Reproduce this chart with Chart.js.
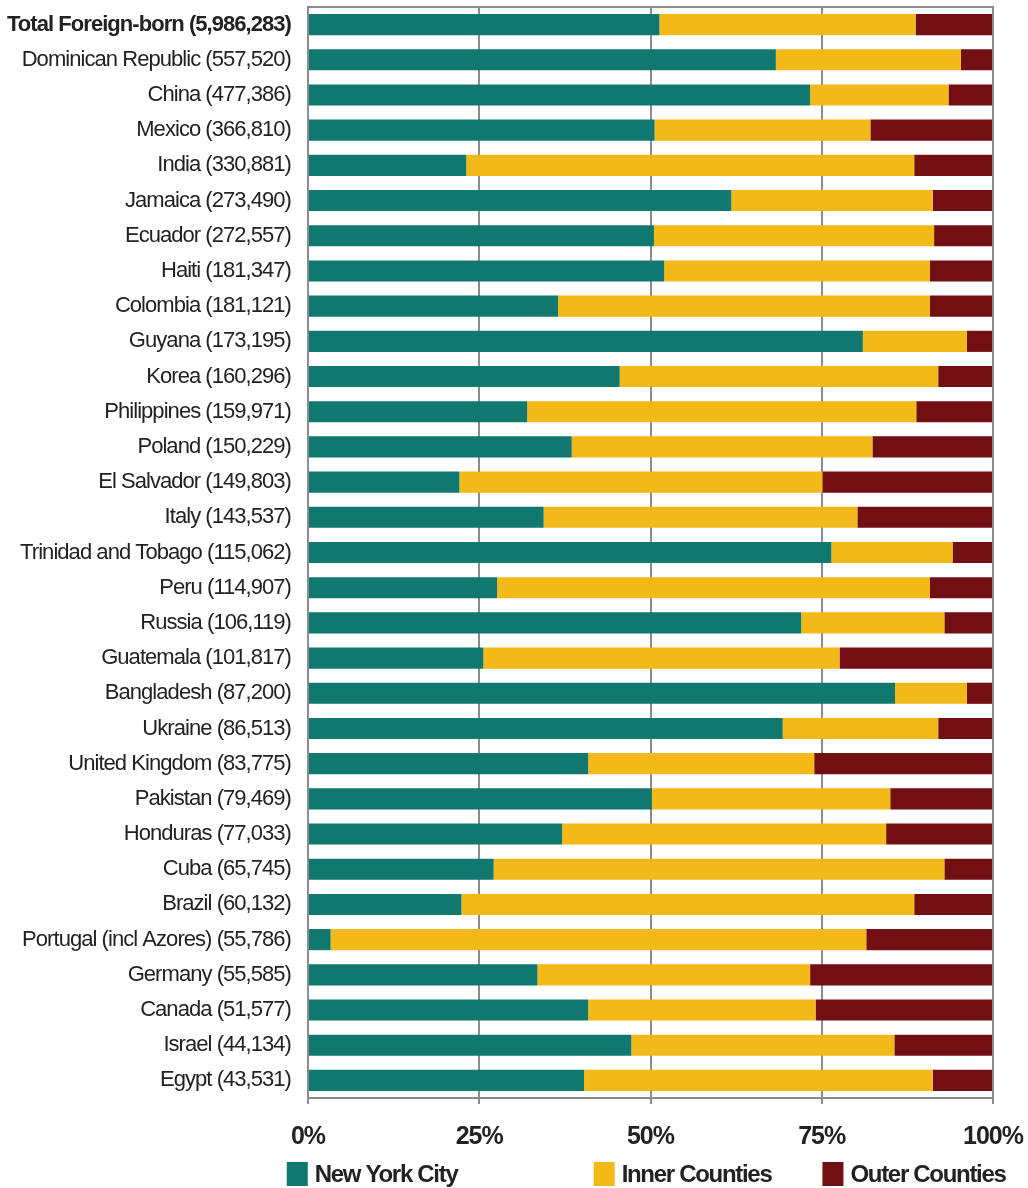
<!DOCTYPE html>
<html>
<head>
<meta charset="utf-8">
<script src="https://cdn.jsdelivr.net/npm/chart.js@4/dist/chart.umd.min.js"></script>
<style>
  body { margin: 0; background: #fff; }
  canvas { display: block; }
</style>
</head>
<body>
<canvas id="shareChart" width="1028" height="1188"></canvas>
<script>
const countries = ['Total Foreign-born', 'Dominican Republic', 'China', 'Mexico', 'India', 'Jamaica',
  'Ecuador', 'Haiti', 'Colombia', 'Guyana', 'Korea', 'Philippines', 'Poland', 'El Salvador', 'Italy',
  'Trinidad and Tobago', 'Peru', 'Russia', 'Guatemala', 'Bangladesh', 'Ukraine', 'United Kingdom',
  'Pakistan', 'Honduras', 'Cuba', 'Brazil', 'Portugal (incl Azores)', 'Germany', 'Canada', 'Israel', 'Egypt'];
const population = [5986283, 557520, 477386, 366810, 330881, 273490, 272557, 181347, 181121, 173195,
  160296, 159971, 150229, 149803, 143537, 115062, 114907, 106119, 101817, 87200, 86513, 83775,
  79469, 77033, 65745, 60132, 55786, 55585, 51577, 44134, 43531];
// percent of each group living in New York City / inner counties / outer counties
const nyc   = [51.3, 68.3, 73.3, 50.6, 23.1, 61.8, 50.5, 52.0, 36.5, 81.0, 45.5, 32.0, 38.5, 22.1, 34.4,
  76.4, 27.6, 72.0, 25.6, 85.7, 69.3, 40.9, 50.2, 37.1, 27.1, 22.4, 3.3, 33.5, 40.9, 47.2, 40.3];
const inner = [37.4, 27.0, 20.2, 31.5, 65.4, 29.4, 40.9, 38.8, 54.3, 15.2, 46.5, 56.8, 43.9, 53.0, 45.8,
  17.7, 63.2, 20.9, 52.0, 10.5, 22.7, 33.0, 34.8, 47.3, 65.8, 66.1, 78.2, 39.8, 33.2, 38.4, 50.9];
const outer = [11.3, 4.7, 6.5, 17.9, 11.5, 8.8, 8.6, 9.2, 9.2, 3.8, 8.0, 11.2, 17.6, 24.9, 19.8,
  5.9, 9.2, 7.1, 22.4, 3.8, 8.0, 26.1, 15.0, 15.6, 7.1, 11.5, 18.5, 26.7, 25.9, 14.4, 8.8];
const tickValues = [0, 25, 50, 75, 100];

const labels = countries.map((c, i) => c + ' (' + population[i].toLocaleString('en-US') + ')');
const fontFamily = "'Liberation Sans', Arial, sans-serif";
const gridGray = '#8c8c8c';

// squeeze the text a little, the original uses a narrow face
const tightText = {
  id: 'tightText',
  beforeLayout(chart) { chart.ctx.letterSpacing = '-0.95px'; },
  beforeDraw(chart) { chart.ctx.letterSpacing = '-0.95px'; }
};

// frame round the plot area
const frame = {
  id: 'frame',
  afterDatasetsDraw(chart) {
    const a = chart.chartArea, ctx = chart.ctx;
    ctx.save();
    ctx.strokeStyle = gridGray;
    ctx.lineWidth = 2;
    ctx.strokeRect(a.left, a.top, a.right - a.left, a.bottom - a.top);
    ctx.restore();
  }
};

// legend drawn by hand because the items are unevenly spaced
const bottomLegend = {
  id: 'bottomLegend',
  afterDraw(chart) {
    const ctx = chart.ctx, a = chart.chartArea;
    const w = a.right - a.left;
    const starts = [-0.031, 0.417, 0.751];
    const y = 1174;
    ctx.save();
    ctx.letterSpacing = '-1.3px';
    ctx.font = 'bold 24px ' + fontFamily;
    ctx.textBaseline = 'middle';
    chart.data.datasets.forEach((ds, i) => {
      const x = a.left + starts[i] * w;
      ctx.fillStyle = ds.backgroundColor;
      ctx.fillRect(x, y - 12, 21, 24);
      ctx.fillStyle = '#222';
      ctx.fillText(ds.label, x + 28, y + 1);
    });
    ctx.restore();
  }
};

new Chart(document.getElementById('shareChart'), {
  type: 'bar',
  data: {
    labels: labels,
    datasets: [
      { label: 'New York City', data: nyc, backgroundColor: '#10786f' },
      { label: 'Inner Counties', data: inner, backgroundColor: '#f3b919' },
      { label: 'Outer Counties', data: outer, backgroundColor: '#710f12' }
    ]
  },
  options: {
    indexAxis: 'y',
    responsive: false,
    animation: false,
    barPercentage: 0.6,
    categoryPercentage: 1,
    layout: { padding: { top: 7, right: 35, bottom: 18, left: 0 } },
    plugins: {
      legend: { display: false },
      tooltip: { enabled: false }
    },
    scales: {
      x: {
        stacked: true,
        min: 0,
        max: 100,
        afterBuildTicks: (scale) => { scale.ticks = tickValues.map(v => ({ value: v })); },
        ticks: {
          padding: 0,
          color: '#222',
          font: { family: fontFamily, size: 25, weight: 'bold', lineHeight: 2.64 },
          callback: (v) => v + '%'
        },
        grid: { color: gridGray, lineWidth: 2, tickLength: 6 },
        border: { color: gridGray, width: 2 }
      },
      y: {
        stacked: true,
        afterFit: (scale) => { scale.width = 308; },
        ticks: {
          padding: 0,
          color: '#222',
          font: (ctx) => ({ family: fontFamily, size: 22, lineHeight: 0.6, weight: ctx.index === 0 ? 'bold' : 'normal' })
        },
        grid: { color: 'rgba(0,0,0,0)', drawTicks: true, tickLength: 17 },
        border: { color: gridGray, width: 2 }
      }
    }
  },
  plugins: [tightText, frame, bottomLegend]
});
</script>
</body>
</html>
